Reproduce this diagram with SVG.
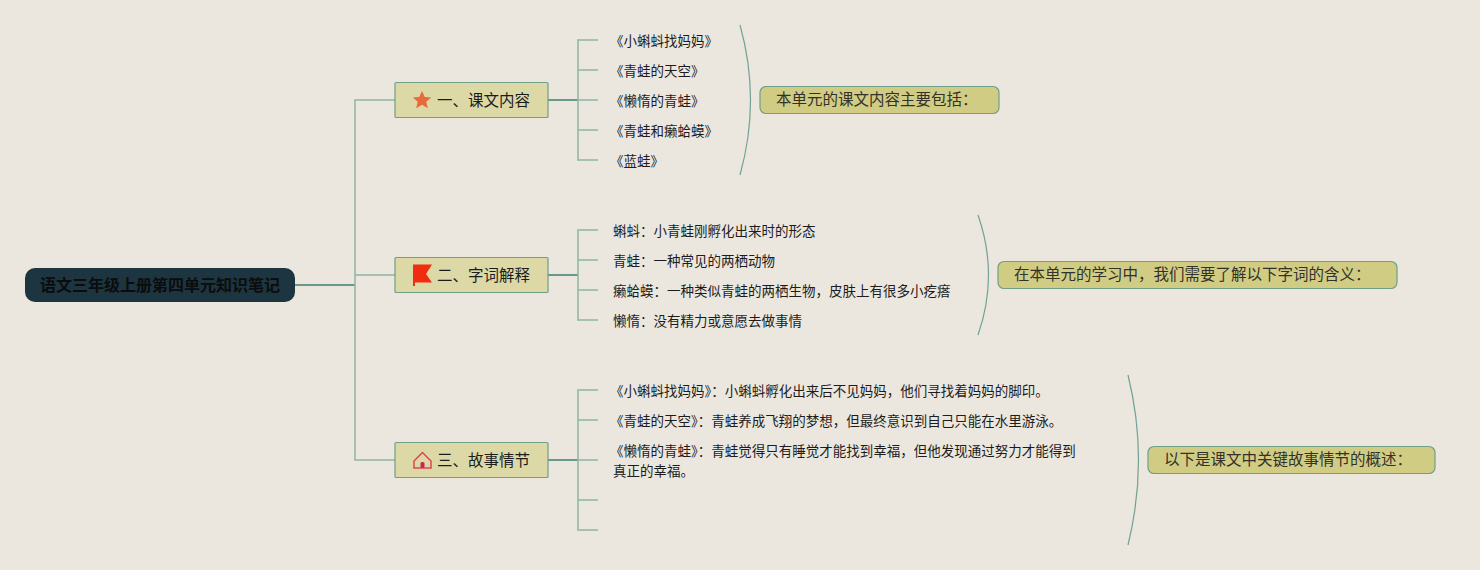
<svg xmlns="http://www.w3.org/2000/svg" width="1480" height="570" viewBox="0 0 1480 570">
<style>
text{font-family:"Noto Sans CJK SC","Liberation Sans",sans-serif;fill:#1c1c1c}
.leaf{font-size:13.5px}
.topic{font-size:15.5px}
.sum{font-size:15.5px;fill:#33322a}
.c{fill:none;stroke:#8db5a4;stroke-width:1.5}
.d{fill:none;stroke:#66998a;stroke-width:2}
.a{fill:none;stroke:#6fa394;stroke-width:1.2}
.t{fill:#dcd9a6;stroke:#6f9f88;stroke-width:1.2}
.s{fill:#d1cc84;stroke:#6f9f88;stroke-width:1.2}
</style>
<rect width="1480" height="570" fill="#ebe7df"/>
<g id="connectors">
<path class="d" d="M295 285H355"/>
<path class="c" d="M395 100H355V460H395M355 275H395"/>
<path class="d" d="M548 100H578M548 275H578M548 460H578"/>
<path class="c" d="M598 40H578V160H598M578 70H598M578 100H598M578 130H598"/>
<path class="c" d="M598 230H578V320H598M578 260H598M578 290H598"/>
<path class="c" d="M598 390H578V530H598M578 420H598M578 460H598M578 500H598"/>
<path class="a" d="M740 25Q761 100 740 175"/>
<path class="a" d="M978 215Q999 275 978 335"/>
<path class="a" d="M1128 375Q1149 460 1128 545"/>
</g>
<g id="root"><rect x="25" y="268" width="270" height="34" rx="10" fill="#1c3540"/><text x="160" y="291" text-anchor="middle" font-size="16" font-weight="700" style="fill:#0c0c0c">语文三年级上册第四单元知识笔记</text></g>
<g id="topic1"><rect class="t" x="395" y="82.500" width="153" height="35" rx="1"/><path fill="#e8693a" d="M422 91l2.800 6 6.400.6-4.900 4.200 1.500 6.400-5.800-3.400-5.800 3.400 1.500-6.400-4.900-4.200 6.400-.6z"/><text class="topic" x="437" y="106">一、课文内容</text></g>
<g id="topic2"><rect class="t" x="395" y="257.500" width="153" height="35" rx="1"/><path fill="#f22c10" d="M413 264.500H432L426 274 432 282.500H415V286H413z"/><text class="topic" x="437" y="281">二、字词解释</text></g>
<g id="topic3"><rect class="t" x="395" y="442.500" width="153" height="35" rx="1"/><path fill="none" stroke="#d9455a" stroke-width="1.500" d="M414 461L422.500 452.500 431 461V468H414z"/><rect x="420.500" y="462" width="4" height="6" rx="1.500" fill="#d6234a"/><text class="topic" x="437" y="466">三、故事情节</text></g>
<g id="leaves1">
<text class="leaf" x="610" y="46">《小蝌蚪找妈妈》</text>
<text class="leaf" x="610" y="76">《青蛙的天空》</text>
<text class="leaf" x="610" y="106">《懒惰的青蛙》</text>
<text class="leaf" x="610" y="136">《青蛙和癞蛤蟆》</text>
<text class="leaf" x="610" y="166">《蓝蛙》</text>
</g>
<g id="leaves2">
<text class="leaf" x="613" y="236">蝌蚪：小青蛙刚孵化出来时的形态</text>
<text class="leaf" x="613" y="266">青蛙：一种常见的两栖动物</text>
<text class="leaf" x="613" y="296">癞蛤蟆：一种类似青蛙的两栖生物，皮肤上有很多小疙瘩</text>
<text class="leaf" x="613" y="326">懒惰：没有精力或意愿去做事情</text>
</g>
<g id="leaves3">
<text class="leaf" x="610" y="396">《小蝌蚪找妈妈》：小蝌蚪孵化出来后不见妈妈，他们寻找着妈妈的脚印。</text>
<text class="leaf" x="610" y="426">《青蛙的天空》：青蛙养成飞翔的梦想，但最终意识到自己只能在水里游泳。</text>
<text class="leaf" x="610" y="456">《懒惰的青蛙》：青蛙觉得只有睡觉才能找到幸福，但他发现通过努力才能得到</text>
<text class="leaf" x="613" y="476">真正的幸福。</text>
</g>
<g id="summary1"><rect class="s" x="760" y="86.500" width="239" height="27" rx="6"/><text class="sum" x="776" y="105">本单元的课文内容主要包括：</text></g>
<g id="summary2"><rect class="s" x="998" y="261.500" width="399" height="27" rx="6"/><text class="sum" x="1014" y="280">在本单元的学习中，我们需要了解以下字词的含义：</text></g>
<g id="summary3"><rect class="s" x="1148" y="446.500" width="287" height="27" rx="6"/><text class="sum" x="1164" y="465">以下是课文中关键故事情节的概述：</text></g>
</svg>
